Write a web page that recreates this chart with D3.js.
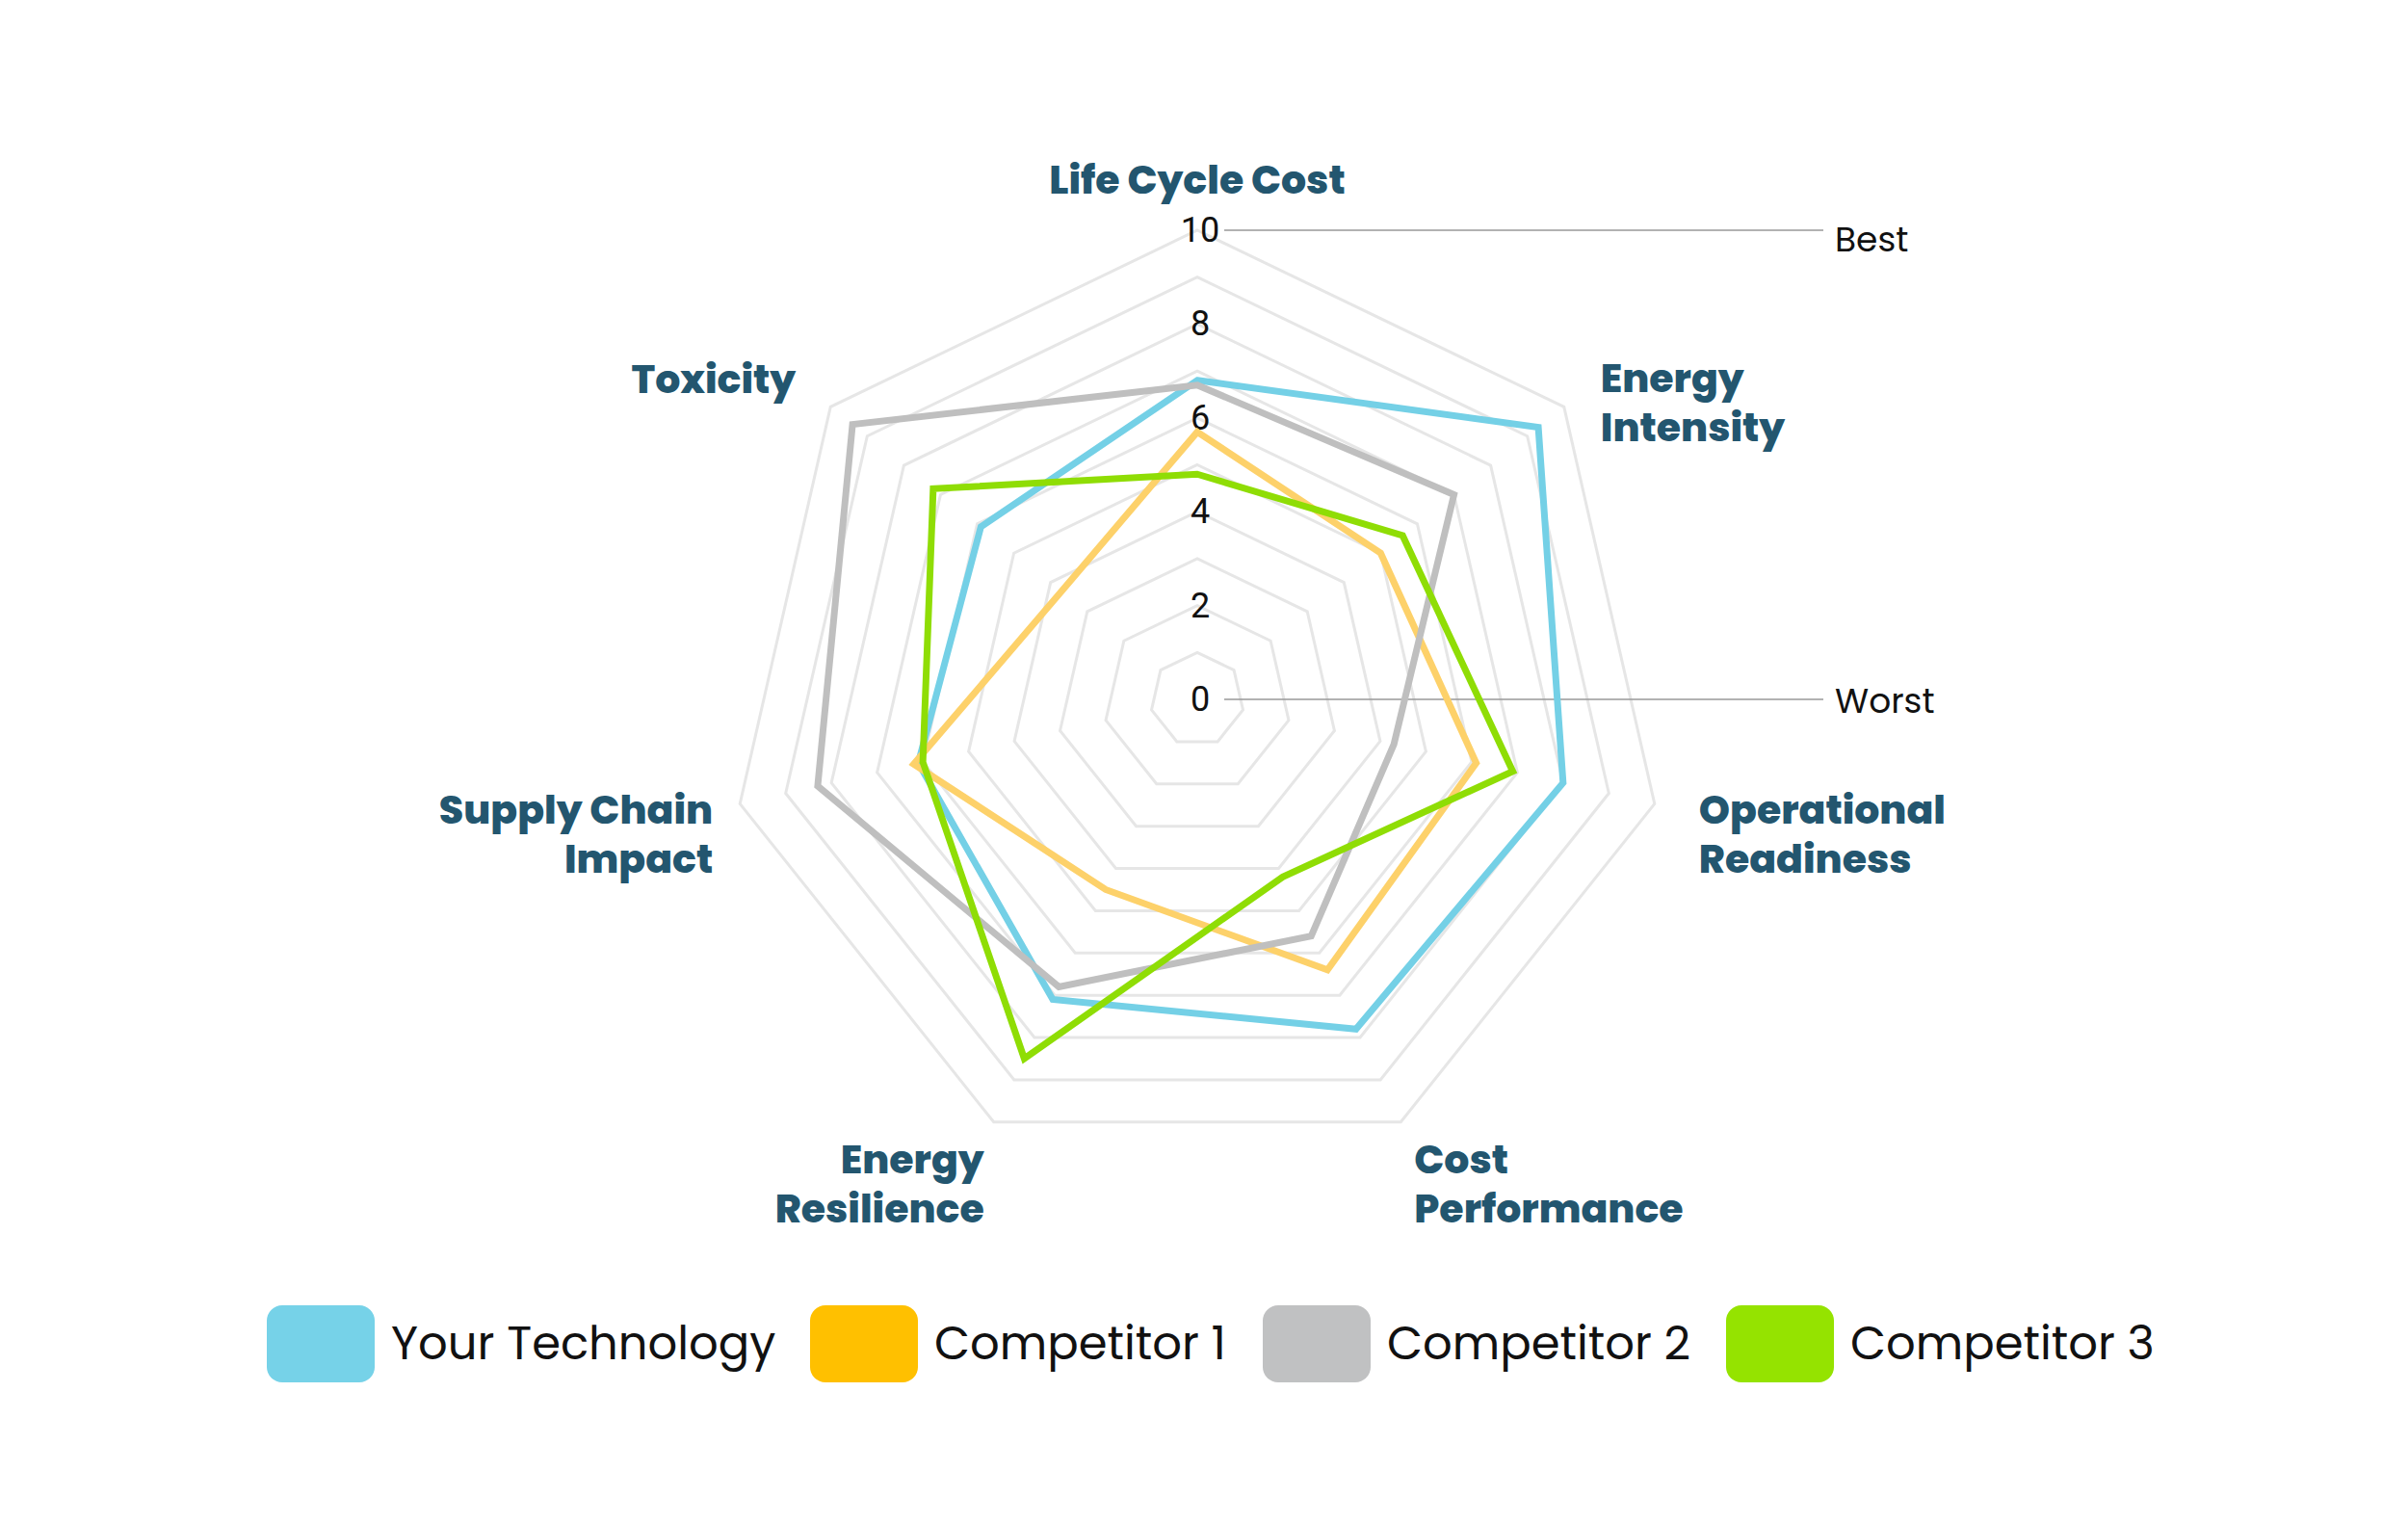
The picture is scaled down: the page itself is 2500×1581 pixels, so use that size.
<!DOCTYPE html>
<html><head><meta charset="utf-8">
<script src="https://cdn.jsdelivr.net/npm/d3@7"></script>
<style>body{margin:0;background:#fff}svg{display:block}</style>
</head><body><svg id="svg" width="2500" height="1581"></svg>
<script>
const axes = ['Life Cycle Cost', 'Energy Intensity', 'Operational Readiness', 'Cost Performance', 'Energy Resilience', 'Supply Chain Impact', 'Toxicity'];
const seriesNames = ['Your Technology', 'Competitor 1', 'Competitor 2', 'Competitor 3'];
const yourTech = [6.8, 9.3, 8.0, 7.8, 7.1, 6.1, 5.9];
const comp1 = [5.7, 5.0, 6.1, 6.4, 4.5, 6.2, 3.7];
const comp2 = [6.7, 7.0, 4.3, 5.6, 6.8, 8.3, 9.4];
const comp3 = [4.8, 5.6, 6.9, 4.2, 8.5, 6.0, 7.2];
const ticks = [0, 2, 4, 6, 8, 10];
const lineColors = ['#74d0e6', '#fdd16a', '#bfbfbf', '#8fdd05'];
const legendColors = ['#76d2e8', '#ffc000', '#c0c1c2', '#95e300'];

const cx = 1243, cy = 726, R = 487;
const svg = d3.select('#svg');
const r = d3.scaleLinear().domain([0, 10]).range([0, R]);
const ang = i => i * 2 * Math.PI / axes.length;
const pt = (i, v) => [cx + r(v) * Math.sin(ang(i)), cy - r(v) * Math.cos(ang(i))];

// grid rings, one per unit
d3.range(1, 11).forEach(v => {
  svg.append('polygon')
    .attr('points', axes.map((a, i) => pt(i, v).join(',')).join(' '))
    .attr('fill', 'none').attr('stroke', '#e6e6e6').attr('stroke-width', 3);
});

// best / worst guides
[[10, 'Best', 22], [0, 'Worst', 14]].forEach(([v, t, off]) => {
  const y = cy - r(v);
  svg.append('line').attr('x1', cx + 28).attr('x2', cx + 650).attr('y1', y).attr('y2', y)
    .attr('stroke', '#999').attr('stroke-width', 1.5);
  svg.append('text').attr('x', cx + 662).attr('y', y + off).text(t)
    .attr('font-family', 'Poppins, Inter, sans-serif').attr('font-size', 36).attr('fill', '#111');
});

ticks.forEach(v => {
  svg.append('text').attr('x', cx + 3).attr('y', cy - r(v) + 12).attr('text-anchor', 'middle')
    .attr('font-family', 'Roboto, sans-serif').attr('font-size', 36).attr('fill', '#111').text(v);
});

// series
const line = d3.line().curve(d3.curveLinearClosed);
[yourTech, comp1, comp2, comp3].forEach((s, k) => {
  svg.append('path').attr('d', line(s.map((v, i) => pt(i, v))))
    .attr('fill', 'none').attr('stroke', lineColors[k]).attr('stroke-width', 7)
    .attr('stroke-linejoin', 'miter');
});

// axis labels
const labelLayout = [
  {dx: 0, dy: -52, anchor: 'middle'},
  {dx: 38, dy: -4, anchor: 'start'},
  {dx: 46, dy: 32, anchor: 'start'},
  {dx: 14, dy: 64, anchor: 'start'},
  {dx: -10, dy: 64, anchor: 'end'},
  {dx: -28, dy: 32, anchor: 'end'},
  {dx: -36, dy: -28, anchor: 'end'}
];
const labelLines = [['Life Cycle Cost'], ['Energy', 'Intensity'], ['Operational', 'Readiness'], ['Cost', 'Performance'], ['Energy', 'Resilience'], ['Supply Chain', 'Impact'], ['Toxicity']];
axes.forEach((a, i) => {
  const [x, y] = pt(i, 10);
  const L = labelLayout[i], lines = labelLines[i];
  const t = svg.append('text').attr('text-anchor', L.anchor)
    .attr('font-family', 'Poppins, Inter, sans-serif').attr('font-weight', 800)
    .attr('font-size', 41).attr('fill', '#23566f');
  const y0 = y + L.dy - (lines.length - 1) * 25 + 14;
  lines.forEach((l, j) => t.append('tspan').attr('x', x + L.dx).attr('y', y0 + j * 51).text(l));
});

// legend
const legendX = [277, 841, 1311, 1792];
seriesNames.forEach((n, k) => {
  svg.append('rect').attr('x', legendX[k]).attr('y', 1355).attr('width', 112).attr('height', 80)
    .attr('rx', 16).attr('fill', legendColors[k]);
  svg.append('text').attr('x', legendX[k] + 129).attr('y', 1411).text(n)
    .attr('font-family', 'Poppins, Inter, sans-serif').attr('font-size', 48).attr('fill', '#111');
});
</script></body></html>
